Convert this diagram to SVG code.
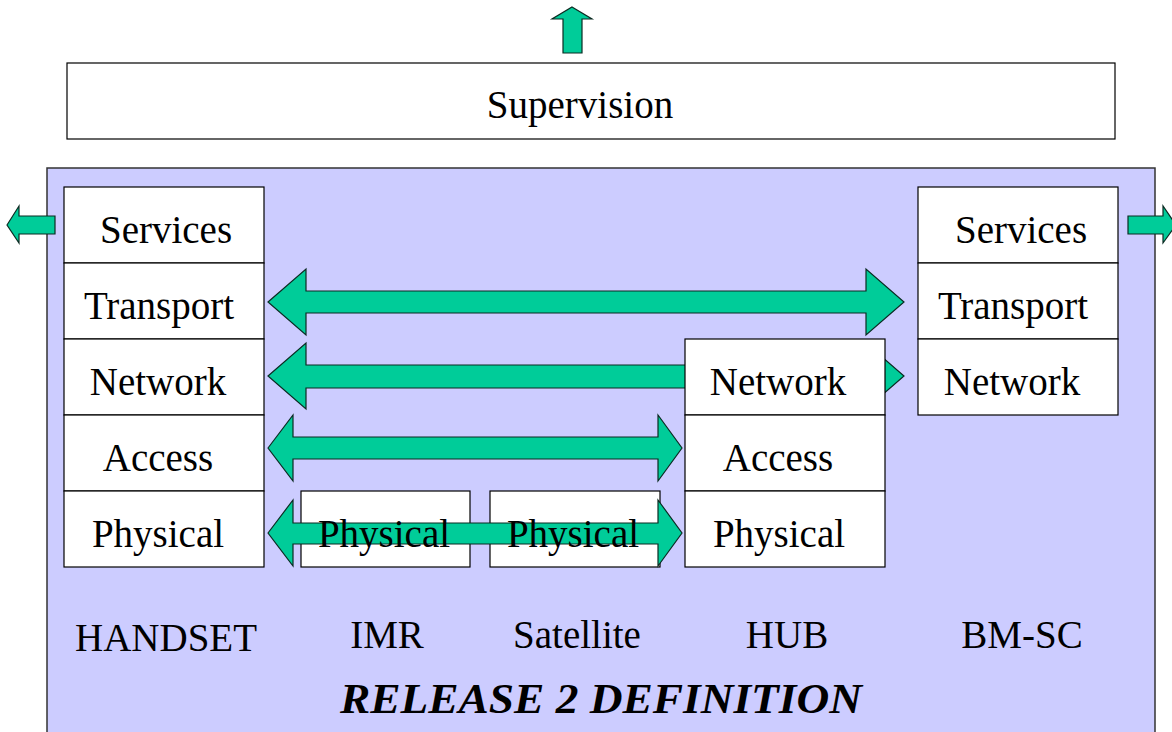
<svg xmlns="http://www.w3.org/2000/svg" width="1172" height="732" viewBox="0 0 1172 732">
<style>
.box{fill:#fff;stroke:#000;stroke-width:1.2}
.arr{fill:#00CC99;stroke:#0b2b22;stroke-width:1.2;stroke-linejoin:miter}
.t{font-size:39px;fill:#000;text-anchor:middle}
.big{font-size:43px;font-weight:bold;font-style:italic;fill:#000;text-anchor:middle}
</style>
<rect x="0" y="0" width="1172" height="732" fill="#fff"/>
<g font-family="Liberation Serif, DejaVu Serif, serif">
<g id="supervision">
<rect class="box" x="67" y="63" width="1048" height="76"/>
<text class="t" x="580" y="118">Supervision</text>
</g>
<g id="release2">
<rect x="47" y="168" width="1108" height="580" fill="#CCCCFF" stroke="#333" stroke-width="1.5"/>
<text class="t" x="166" y="651">HANDSET</text>
<text class="t" x="387" y="648">IMR</text>
<text class="t" x="577" y="648">Satellite</text>
<text class="t" x="787" y="648">HUB</text>
<text class="t" x="1022" y="648">BM-SC</text>
<text class="big" x="601" y="713" textLength="522" lengthAdjust="spacingAndGlyphs">RELEASE 2 DEFINITION</text>
</g>
<g id="handset">
<rect class="box" x="64" y="187" width="200" height="76"/>
<rect class="box" x="64" y="263" width="200" height="76"/>
<rect class="box" x="64" y="339" width="200" height="76"/>
<rect class="box" x="64" y="415" width="200" height="76"/>
<rect class="box" x="64" y="491" width="200" height="76"/>
<text class="t" x="166" y="243">Services</text>
<text class="t" x="159" y="319">Transport</text>
<text class="t" x="158" y="395">Network</text>
<text class="t" x="158" y="471">Access</text>
<text class="t" x="158" y="547">Physical</text>
</g>
<g id="bmsc">
<rect class="box" x="918" y="187" width="200" height="76"/>
<rect class="box" x="918" y="263" width="200" height="76"/>
<rect class="box" x="918" y="339" width="200" height="76"/>
<text class="t" x="1021" y="243">Services</text>
<text class="t" x="1013" y="319">Transport</text>
<text class="t" x="1012" y="395">Network</text>
</g>
<g id="imr">
<rect class="box" x="301" y="491" width="169" height="76"/>
</g>
<g id="satellite">
<rect class="box" x="490" y="491" width="170" height="76"/>
</g>
<g id="connectors">
<polygon class="arr" points="572,7 592,19 582,19 582,53 563,53 563,19 552,19"/>
<polygon class="arr" points="7,225 19,206 19,216 55,216 55,234 19,234 19,243"/>
<polygon class="arr" points="1128,216 1163,216 1163,206 1176,225 1163,243 1163,234 1128,234"/>
<polygon class="arr" points="268,302 306,269 306,291 866,291 866,269 904,302 866,335 866,313 306,313 306,335"/>
<polygon class="arr" points="268,376 306,343 306,365 866,365 866,343 904,376 866,409 866,388 306,388 306,409"/>
<polygon class="arr" points="268,448 293,415 293,437 658,437 658,415 682,448 658,481 658,459 293,459 293,481"/>
<polygon class="arr" points="268,533 293,500 293,523 658,523 658,500 682,533 658,566 658,544 293,544 293,566"/>
</g>
<g id="hub">
<rect class="box" x="685" y="339" width="200" height="76"/>
<rect class="box" x="685" y="415" width="200" height="76"/>
<rect class="box" x="685" y="491" width="200" height="76"/>
<text class="t" x="778" y="395">Network</text>
<text class="t" x="778" y="471">Access</text>
<text class="t" x="779" y="547">Physical</text>
</g>
<g id="imr-satellite-labels">
<text class="t" x="384" y="547">Physical</text>
<text class="t" x="573" y="547">Physical</text>
</g>
</g>
</svg>
